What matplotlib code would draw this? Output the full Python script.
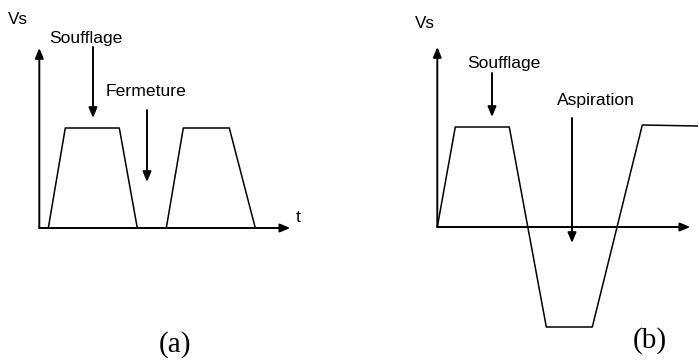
import numpy as np
import matplotlib.pyplot as plt

# schematic waveforms (time in arbitrary units, Vs normalised to plateau = 1)
t_a = [0.9, 2.6, 8.0, 9.8, 12.7, 14.4, 19.0, 21.6]
vs_a = [0, 1, 1, 0, 0, 1, 1, 0]

t_b = [0.0, 1.8, 7.2, 10.9, 15.5, 20.5, 26.0]
vs_b = [0, 1, 1, -1, -1, 1.02, 1.01]

W, H = 699, 361
fig = plt.figure(figsize=(W / 100, H / 100), dpi=100)

SANS = 'Liberation Sans'
SERIF = 'Liberation Serif'


def panel(ox, oy, sx=10.0, sy=100.0):
    # full-figure transparent axes whose data origin sits at pixel (ox, oy)
    ax = fig.add_axes([0, 0, 1, 1])
    ax.set_xlim(-ox / sx, (W - ox) / sx)
    ax.set_ylim((oy - H) / sy, oy / sy)
    ax.axis('off')
    ax.patch.set_alpha(0)
    return ax


def arrow(ax, x0, y0, x1, y1, lw=1.4):
    ax.annotate('', xy=(x1, y1), xytext=(x0, y0),
                arrowprops=dict(arrowstyle='-|>,head_length=0.6,head_width=0.25',
                                lw=lw, color='black', shrinkA=0, shrinkB=0))


# ---- (a)
ax = panel(39.3, 228)
arrow(ax, 0, 0, 25.1, 0)
arrow(ax, 0, 0, 0, 1.8)
ax.plot(t_a, vs_a, color='black', lw=1.1)
arrow(ax, 5.37, 1.81, 5.37, 1.10)
arrow(ax, 10.77, 1.18, 10.77, 0.46)
ax.text(-3.1, 2.09, 'Vs', fontsize=12.3, family=SANS, va='center')
ax.text(0.97, 1.90, 'Soufflage', fontsize=12.6, family=SANS, va='center')
ax.text(6.67, 1.37, 'Fermeture', fontsize=12.6, family=SANS, va='center')
ax.text(25.6, 0.10, 't', fontsize=12.6, family=SANS, va='center')
ax.text(13.6, -1.17, '(a)', fontsize=21, family=SERIF, ha='center', va='center')

# ---- (b)
ax = panel(437.3, 227)
arrow(ax, 0, 0, 25.3, 0)
arrow(ax, 0, 0, 0, 1.8)
ax.plot(t_b, vs_b, color='black', lw=1.1)
arrow(ax, 5.47, 1.54, 5.47, 1.10)
arrow(ax, 13.47, 1.09, 13.47, -0.16)
ax.text(-2.2, 2.04, 'Vs', fontsize=12.3, family=SANS, va='center')
ax.text(2.97, 1.64, 'Soufflage', fontsize=12.6, family=SANS, va='center')
ax.text(11.97, 1.27, 'Aspiration', fontsize=12.6, family=SANS, va='center')
ax.text(21.3, -1.14, '(b)', fontsize=21, family=SERIF, ha='center', va='center')

fig.savefig('out.png', dpi=100)
